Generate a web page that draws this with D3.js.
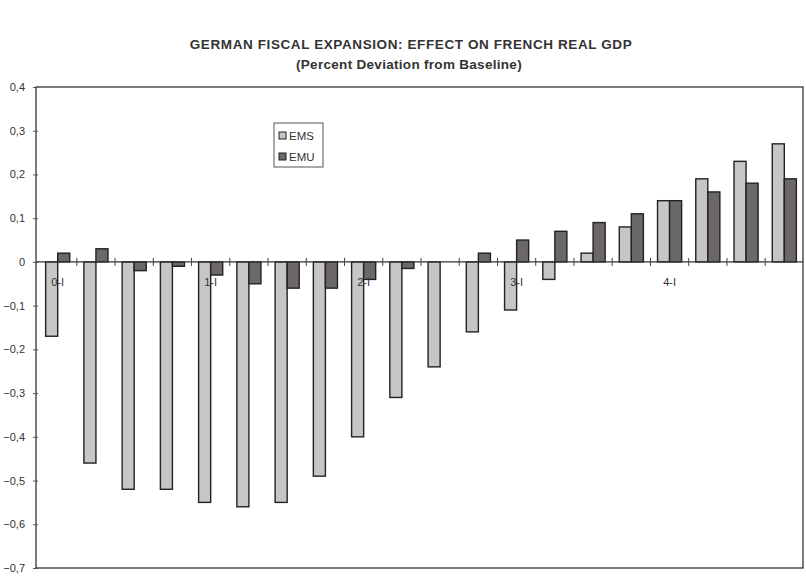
<!DOCTYPE html>
<html>
<head>
<meta charset="utf-8">
<script src="https://cdn.jsdelivr.net/npm/d3@7"></script>
<style>
  body { margin: 0; background: #fff; }
  svg text { font-family: "Liberation Sans", Arial, sans-serif; fill: #333; }
</style>
</head>
<body>
<div id="chart"></div>
<script>
// quarters: year-quarter, only the first quarter of each year gets a label
var quarters = d3.range(20).map(function (i) { return Math.floor(i / 4) + "-" + (i % 4 + 1); });
var quarterLabels = ["0-I", "", "", "", "1-I", "", "", "", "2-I", "", "", "", "3-I", "", "", "", "4-I", "", "", ""];
var emsValues = [-0.17, -0.46, -0.52, -0.52, -0.55, -0.56, -0.55, -0.49, -0.40, -0.31,
                 -0.24, -0.16, -0.11, -0.04, 0.02, 0.08, 0.14, 0.19, 0.23, 0.27];
var emuValues = [0.02, 0.03, -0.02, -0.01, -0.03, -0.05, -0.06, -0.06, -0.04, -0.015,
                 0, 0.02, 0.05, 0.07, 0.09, 0.11, 0.14, 0.16, 0.18, 0.19];
var seriesNames = ["EMS", "EMU"];
var yTicks = [0.4, 0.3, 0.2, 0.1, 0, -0.1, -0.2, -0.3, -0.4, -0.5, -0.6, -0.7];

var width = 806, height = 579;
var margin = {top: 87, right: 3, bottom: 11, left: 36};
var colors = {EMS: "#c6c6c6", EMU: "#6c6769"};

var svg = d3.select("#chart").append("svg")
    .attr("width", width)
    .attr("height", height);

svg.append("text")
    .attr("x", 411).attr("y", 49)
    .attr("text-anchor", "middle")
    .style("font-size", "13.5px").style("font-weight", "bold")
    .style("letter-spacing", "0.6px")
    .text("GERMAN FISCAL EXPANSION: EFFECT ON FRENCH REAL GDP");
svg.append("text")
    .attr("x", 409).attr("y", 69)
    .attr("text-anchor", "middle")
    .style("font-size", "13.5px").style("font-weight", "bold")
    .style("letter-spacing", "0.3px")
    .text("(Percent Deviation from Baseline)");

// the bars sit slightly right of the frame's centre in the original
var x = d3.scaleBand()
    .domain(quarters)
    .range([margin.left + 2, width - 2])
    .paddingInner(0.37)
    .paddingOuter(0.2);
var xSub = d3.scaleBand().domain(seriesNames).range([0, x.bandwidth()]);
var y = d3.scaleLinear().domain([-0.7, 0.4]).range([height - margin.bottom, margin.top]);

// frame
svg.append("rect")
    .attr("x", margin.left).attr("y", margin.top)
    .attr("width", width - margin.left - margin.right)
    .attr("height", y(-0.7) - margin.top)
    .attr("fill", "none").attr("stroke", "#333").attr("stroke-width", 1.3);

// y axis
var yAxis = d3.axisLeft(y)
    .tickValues(yTicks)
    .tickSize(3)
    .tickPadding(8)
    .tickFormat(function (d) { return d === 0 ? "0" : d3.format(".1f")(d).replace(".", ","); });
var gy = svg.append("g")
    .attr("transform", "translate(" + margin.left + ",0)")
    .call(yAxis);
gy.select(".domain").remove();
gy.selectAll(".tick line").attr("stroke", "#555").attr("x1", 2);
gy.selectAll(".tick text").style("font-size", "11px").attr("fill", "#444");

// bars
var rows = quarters.map(function (q, i) {
    return {q: q, values: [{key: "EMS", v: emsValues[i]}, {key: "EMU", v: emuValues[i]}]};
});
var groups = svg.append("g").selectAll("g")
    .data(rows).enter().append("g")
    .attr("transform", function (d) { return "translate(" + x(d.q) + ",0)"; });
groups.selectAll("rect")
    .data(function (d) { return d.values.filter(function (e) { return e.v !== 0; }); })
    .enter().append("rect")
    .attr("x", function (d) { return xSub(d.key); })
    .attr("width", xSub.bandwidth())
    .attr("y", function (d) { return y(Math.max(0, d.v)); })
    .attr("height", function (d) { return Math.abs(y(d.v) - y(0)); })
    .attr("fill", function (d) { return colors[d.key]; })
    .attr("stroke", "#222")
    .attr("stroke-width", 1.4);

// category axis on the zero line
var step = x.step();
var xAxis = d3.axisBottom(x).tickSize(0).tickPadding(16)
    .tickFormat(function (d, i) { return quarterLabels[i]; });
var gx = svg.append("g")
    .attr("transform", "translate(0," + y(0) + ")")
    .call(xAxis);
gx.select(".domain").attr("d", "M" + margin.left + ",0H" + (width - margin.right))
    .attr("stroke", "#333").attr("stroke-width", 1.3);
gx.selectAll(".tick text").style("font-size", "11px").attr("fill", "#333");
gx.selectAll(".sep")
    .data(quarters.slice(1)).enter().append("line")
    .attr("class", "sep")
    .attr("x1", function (d) { return x(d) - step * x.paddingInner() / 2; })
    .attr("x2", function (d) { return x(d) - step * x.paddingInner() / 2; })
    .attr("y1", -4).attr("y2", 4)
    .attr("stroke", "#444");

// legend
var legend = svg.append("g").attr("transform", "translate(274,123)");
legend.append("rect")
    .attr("width", 49).attr("height", 44)
    .attr("fill", "#fff").attr("stroke", "#555");
var items = legend.selectAll(".item")
    .data(seriesNames).enter().append("g")
    .attr("class", "item")
    .attr("transform", function (d, i) { return "translate(5," + (10 + i * 21) + ")"; });
items.append("rect")
    .attr("width", 7).attr("height", 7).attr("y", -1)
    .attr("fill", function (d) { return colors[d]; })
    .attr("stroke", "#222");
items.append("text")
    .attr("x", 10).attr("y", 7)
    .style("font-size", "11.5px")
    .text(function (d) { return d; });
</script>
</body>
</html>
